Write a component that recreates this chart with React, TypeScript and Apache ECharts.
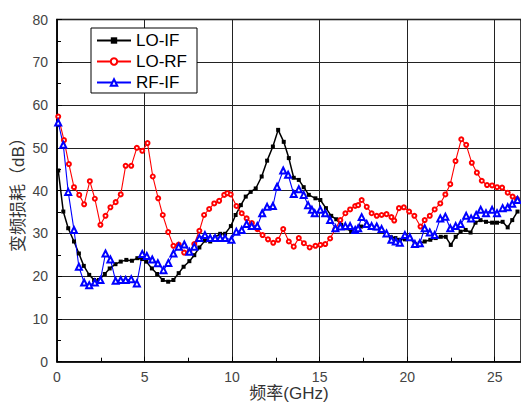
import React, { useEffect, useRef } from "react";
import * as echarts from "echarts";

const xTicks = [0, 5, 10, 15, 20, 25];
const yTicks = [0, 10, 20, 30, 40, 50, 60, 70, 80];

const loIF: number[][] = [
  [0.07, 44.7], [0.36, 35.1], [0.64, 31.2], [0.97, 28.1], [1.25, 25.3], [1.53, 22.4], [1.84, 20.3], [2.12, 19.1],
  [2.4, 19.1], [2.73, 20.5], [3.01, 21.8], [3.34, 22.8], [3.64, 23.4], [3.96, 23.8], [4.28, 23.6], [4.59, 24.2],
  [4.87, 24.0], [5.1, 23.4], [5.42, 21.8], [5.72, 20.5], [6.04, 19.1], [6.35, 18.7], [6.65, 19.1], [6.95, 20.7],
  [7.23, 22.2], [7.56, 23.5], [7.84, 24.9], [8.13, 26.7], [8.45, 28.3], [8.75, 28.1], [9.03, 29.1], [9.32, 29.9],
  [9.6, 29.9], [9.93, 31.7], [10.2, 34.3], [10.5, 36.6], [10.78, 38.6], [11.06, 39.7], [11.35, 40.5], [11.69, 43.3],
  [12.0, 47.0], [12.33, 50.3], [12.63, 54.2], [12.95, 51.4], [13.24, 47.6], [13.52, 43.0], [13.81, 42.5], [14.09, 40.8],
  [14.38, 39.0], [14.76, 38.2], [15.04, 37.8], [15.36, 35.9], [15.66, 34.1], [15.95, 33.3], [16.23, 32.0], [16.52, 31.2],
  [16.8, 30.4], [17.08, 30.8], [17.37, 31.6], [17.65, 31.8], [17.94, 31.6], [18.22, 31.2], [18.5, 30.6], [18.79, 29.8],
  [19.07, 29.1], [19.33, 28.9], [19.58, 28.5], [19.87, 28.6], [20.15, 28.9], [20.44, 27.5], [20.72, 27.7], [21.0, 28.1],
  [21.32, 28.5], [21.63, 28.9], [21.92, 29.2], [22.2, 29.2], [22.49, 27.3], [22.77, 29.2], [23.05, 30.4], [23.34, 30.8],
  [23.62, 30.2], [23.9, 32.5], [24.19, 33.1], [24.5, 32.7], [24.85, 32.5], [25.13, 32.5], [25.45, 32.7], [25.74, 31.4],
  [26.0, 33.1], [26.3, 35.1],
];

const loRF: number[][] = [
  [0.07, 57.3], [0.4, 51.8], [0.68, 46.2], [0.97, 40.8], [1.27, 39.0], [1.55, 36.8], [1.875, 42.2], [2.16, 38.1],
  [2.48, 32.0], [2.77, 34.1], [3.05, 36.1], [3.35, 37.3], [3.64, 39.1], [3.92, 45.8], [4.24, 45.8], [4.56, 50.0],
  [4.87, 49.3], [5.17, 51.1], [5.47, 43.3], [5.78, 38.2], [6.04, 34.3], [6.35, 30.3], [6.65, 27.1], [6.95, 27.4],
  [7.26, 25.5], [7.56, 25.7], [7.84, 27.5], [8.13, 30.6], [8.4, 34.3], [8.69, 35.7], [8.98, 37.0], [9.26, 37.6],
  [9.55, 39.0], [9.73, 39.4], [9.92, 39.1], [10.25, 36.4], [10.55, 34.7], [10.83, 33.5], [11.13, 32.4], [11.44, 31.0],
  [11.74, 29.6], [12.05, 28.6], [12.35, 27.8], [12.63, 28.5], [12.92, 31.0], [13.24, 28.1], [13.52, 26.9], [13.81, 28.9],
  [14.1, 27.7], [14.43, 26.7], [14.76, 27.1], [15.04, 27.3], [15.32, 27.5], [15.6, 28.8], [15.9, 31.0], [16.18, 33.1],
  [16.47, 34.7], [16.74, 35.6], [17.03, 36.4], [17.2, 36.6], [17.4, 37.8], [17.69, 36.2], [17.97, 34.7], [18.26, 34.1],
  [18.54, 34.3], [18.82, 34.5], [19.1, 33.8], [19.26, 33.0], [19.53, 35.9], [19.81, 36.1], [20.11, 35.1], [20.41, 34.1],
  [20.76, 31.6], [21.0, 33.1], [21.29, 34.1], [21.57, 35.6], [21.89, 37.0], [22.18, 39.1], [22.46, 41.5], [22.76, 46.9],
  [23.09, 52.0], [23.37, 50.7], [23.69, 46.5], [23.98, 44.2], [24.26, 42.3], [24.56, 41.3], [24.85, 41.2], [25.13, 40.8],
  [25.42, 40.7], [25.74, 39.5], [26.02, 38.6], [26.27, 38.0],
];

const rfIF: number[][] = [
  [0.07, 55.9], [0.36, 50.7], [0.64, 39.7], [0.97, 30.8], [1.25, 22.2], [1.55, 18.5], [1.84, 17.9], [2.16, 18.5],
  [2.48, 19.1], [2.77, 25.3], [3.05, 23.9], [3.35, 18.9], [3.64, 19.1], [3.92, 19.1], [4.24, 19.3], [4.56, 18.3],
  [4.87, 25.2], [5.13, 24.7], [5.44, 23.9], [5.76, 23.0], [6.08, 21.4], [6.36, 23.1], [6.65, 25.3], [6.95, 26.9],
  [7.27, 27.4], [7.56, 25.7], [7.84, 26.9], [8.13, 28.9], [8.45, 29.6], [8.75, 28.9], [9.03, 28.9], [9.32, 28.9],
  [9.6, 28.9], [9.96, 28.5], [10.24, 30.4], [10.55, 30.8], [10.83, 32.2], [11.12, 31.7], [11.44, 31.7], [11.72, 34.7],
  [12.0, 36.2], [12.33, 36.4], [12.57, 40.9], [12.92, 44.7], [13.2, 43.7], [13.52, 39.2], [13.81, 40.3], [14.09, 39.0],
  [14.34, 36.6], [14.56, 35.5], [14.72, 34.7], [15.04, 35.5], [15.32, 34.7], [15.6, 33.1], [15.9, 31.2], [16.18, 31.6],
  [16.47, 31.7], [16.74, 31.7], [17.03, 30.8], [17.2, 31.2], [17.4, 33.8], [17.69, 32.2], [17.97, 31.7], [18.26, 31.6],
  [18.54, 31.0], [18.82, 30.0], [19.1, 28.5], [19.35, 28.1], [19.58, 27.8], [19.87, 29.6], [20.15, 29.1], [20.44, 27.5],
  [20.72, 27.7], [21.0, 31.2], [21.29, 30.2], [21.57, 29.6], [21.89, 33.5], [22.18, 33.9], [22.46, 31.2], [22.77, 31.7],
  [23.05, 32.2], [23.37, 34.1], [23.65, 33.5], [23.94, 34.3], [24.2, 35.5], [24.5, 34.7], [24.85, 35.5], [25.13, 34.7],
  [25.45, 35.9], [25.74, 36.1], [26.0, 36.9], [26.3, 37.8],
];

const seriesNames = ["LO-IF", "LO-RF", "RF-IF"];

const FONT = "'Liberation Sans', Arial, 'Noto Sans CJK SC', sans-serif";

export default function App() {
  const ref = useRef<HTMLDivElement>(null);
  useEffect(() => {
    if (!ref.current) return;
    const chart = echarts.init(ref.current, undefined, { renderer: "svg" });
    const axisCommon = {
      axisLine: { show: true, onZero: false, lineStyle: { color: "#000", width: 1.5 } },
      axisTick: { show: true, inside: true, length: 5, lineStyle: { color: "#000", width: 1 } },
      minorTick: { show: true, splitNumber: 2, length: 4, lineStyle: { color: "#000", width: 1 } },
      splitLine: { show: true, lineStyle: { color: "#222", width: 1 } },
      axisLabel: { color: "#444", fontSize: 14, fontFamily: FONT },
    };
    chart.setOption({
      animation: false,
      backgroundColor: "#fff",
      grid: {
        left: 57,
        top: 19.5,
        right: 0,
        bottom: 41.3,
        show: true,
        borderColor: "#000",
        borderWidth: 1.5,
        containLabel: false,
        outerBoundsMode: "none",
      },
      legend: {
        show: true,
        data: seriesNames,
        orient: "vertical",
        left: 91,
        top: 28,
        itemWidth: 34,
        itemHeight: 8,
        itemGap: 4,
        padding: [4, 10, 2, 5],
        backgroundColor: "#fff",
        borderColor: "#000",
        borderWidth: 1,
        borderRadius: 0,
        textStyle: { fontSize: 17, color: "#000", fontFamily: FONT },
      },
      xAxis: {
        type: "value",
        min: 0,
        max: 26.5,
        interval: 5,
        name: "频率(GHz)",
        nameLocation: "middle",
        nameGap: 23,
        nameMoveOverlap: false,
        nameTextStyle: { fontSize: 17, color: "#333", fontFamily: FONT },
        ...axisCommon,
        axisLabel: {
          ...axisCommon.axisLabel,
          margin: 8,
          customValues: xTicks,
        },
      },
      yAxis: {
        type: "value",
        min: 0,
        max: 80,
        interval: 10,
        name: "变频损耗（dB）",
        nameLocation: "middle",
        nameGap: 30,
        nameRotate: 90,
        nameMoveOverlap: false,
        nameTextStyle: { fontSize: 17, color: "#333", fontFamily: FONT },
        ...axisCommon,
        axisLabel: { ...axisCommon.axisLabel, margin: 9, customValues: yTicks },
      },
      series: [
        {
          name: "LO-IF",
          type: "line",
          data: loIF,
          symbol: "rect",
          symbolSize: 4,
          lineStyle: { color: "#000", width: 1.5 },
          itemStyle: { color: "#000" },
        },
        {
          name: "LO-RF",
          type: "line",
          data: loRF,
          symbol: "emptyCircle",
          symbolSize: 4,
          lineStyle: { color: "#ff0000", width: 1.1 },
          itemStyle: { color: "#ff0000", borderColor: "#ff0000", borderWidth: 0.8 },
        },
        {
          name: "RF-IF",
          type: "line",
          data: rfIF,
          symbol: "emptyTriangle",
          symbolSize: 6,
          lineStyle: { color: "#0000ff", width: 1.1 },
          itemStyle: { color: "#0000ff", borderColor: "#0000ff", borderWidth: 0.9 },
        },
      ],
    });
    return () => chart.dispose();
  }, []);
  return <div ref={ref} style={{ width: 521, height: 403, position: "absolute", left: 0, top: 0 }} />;
}
